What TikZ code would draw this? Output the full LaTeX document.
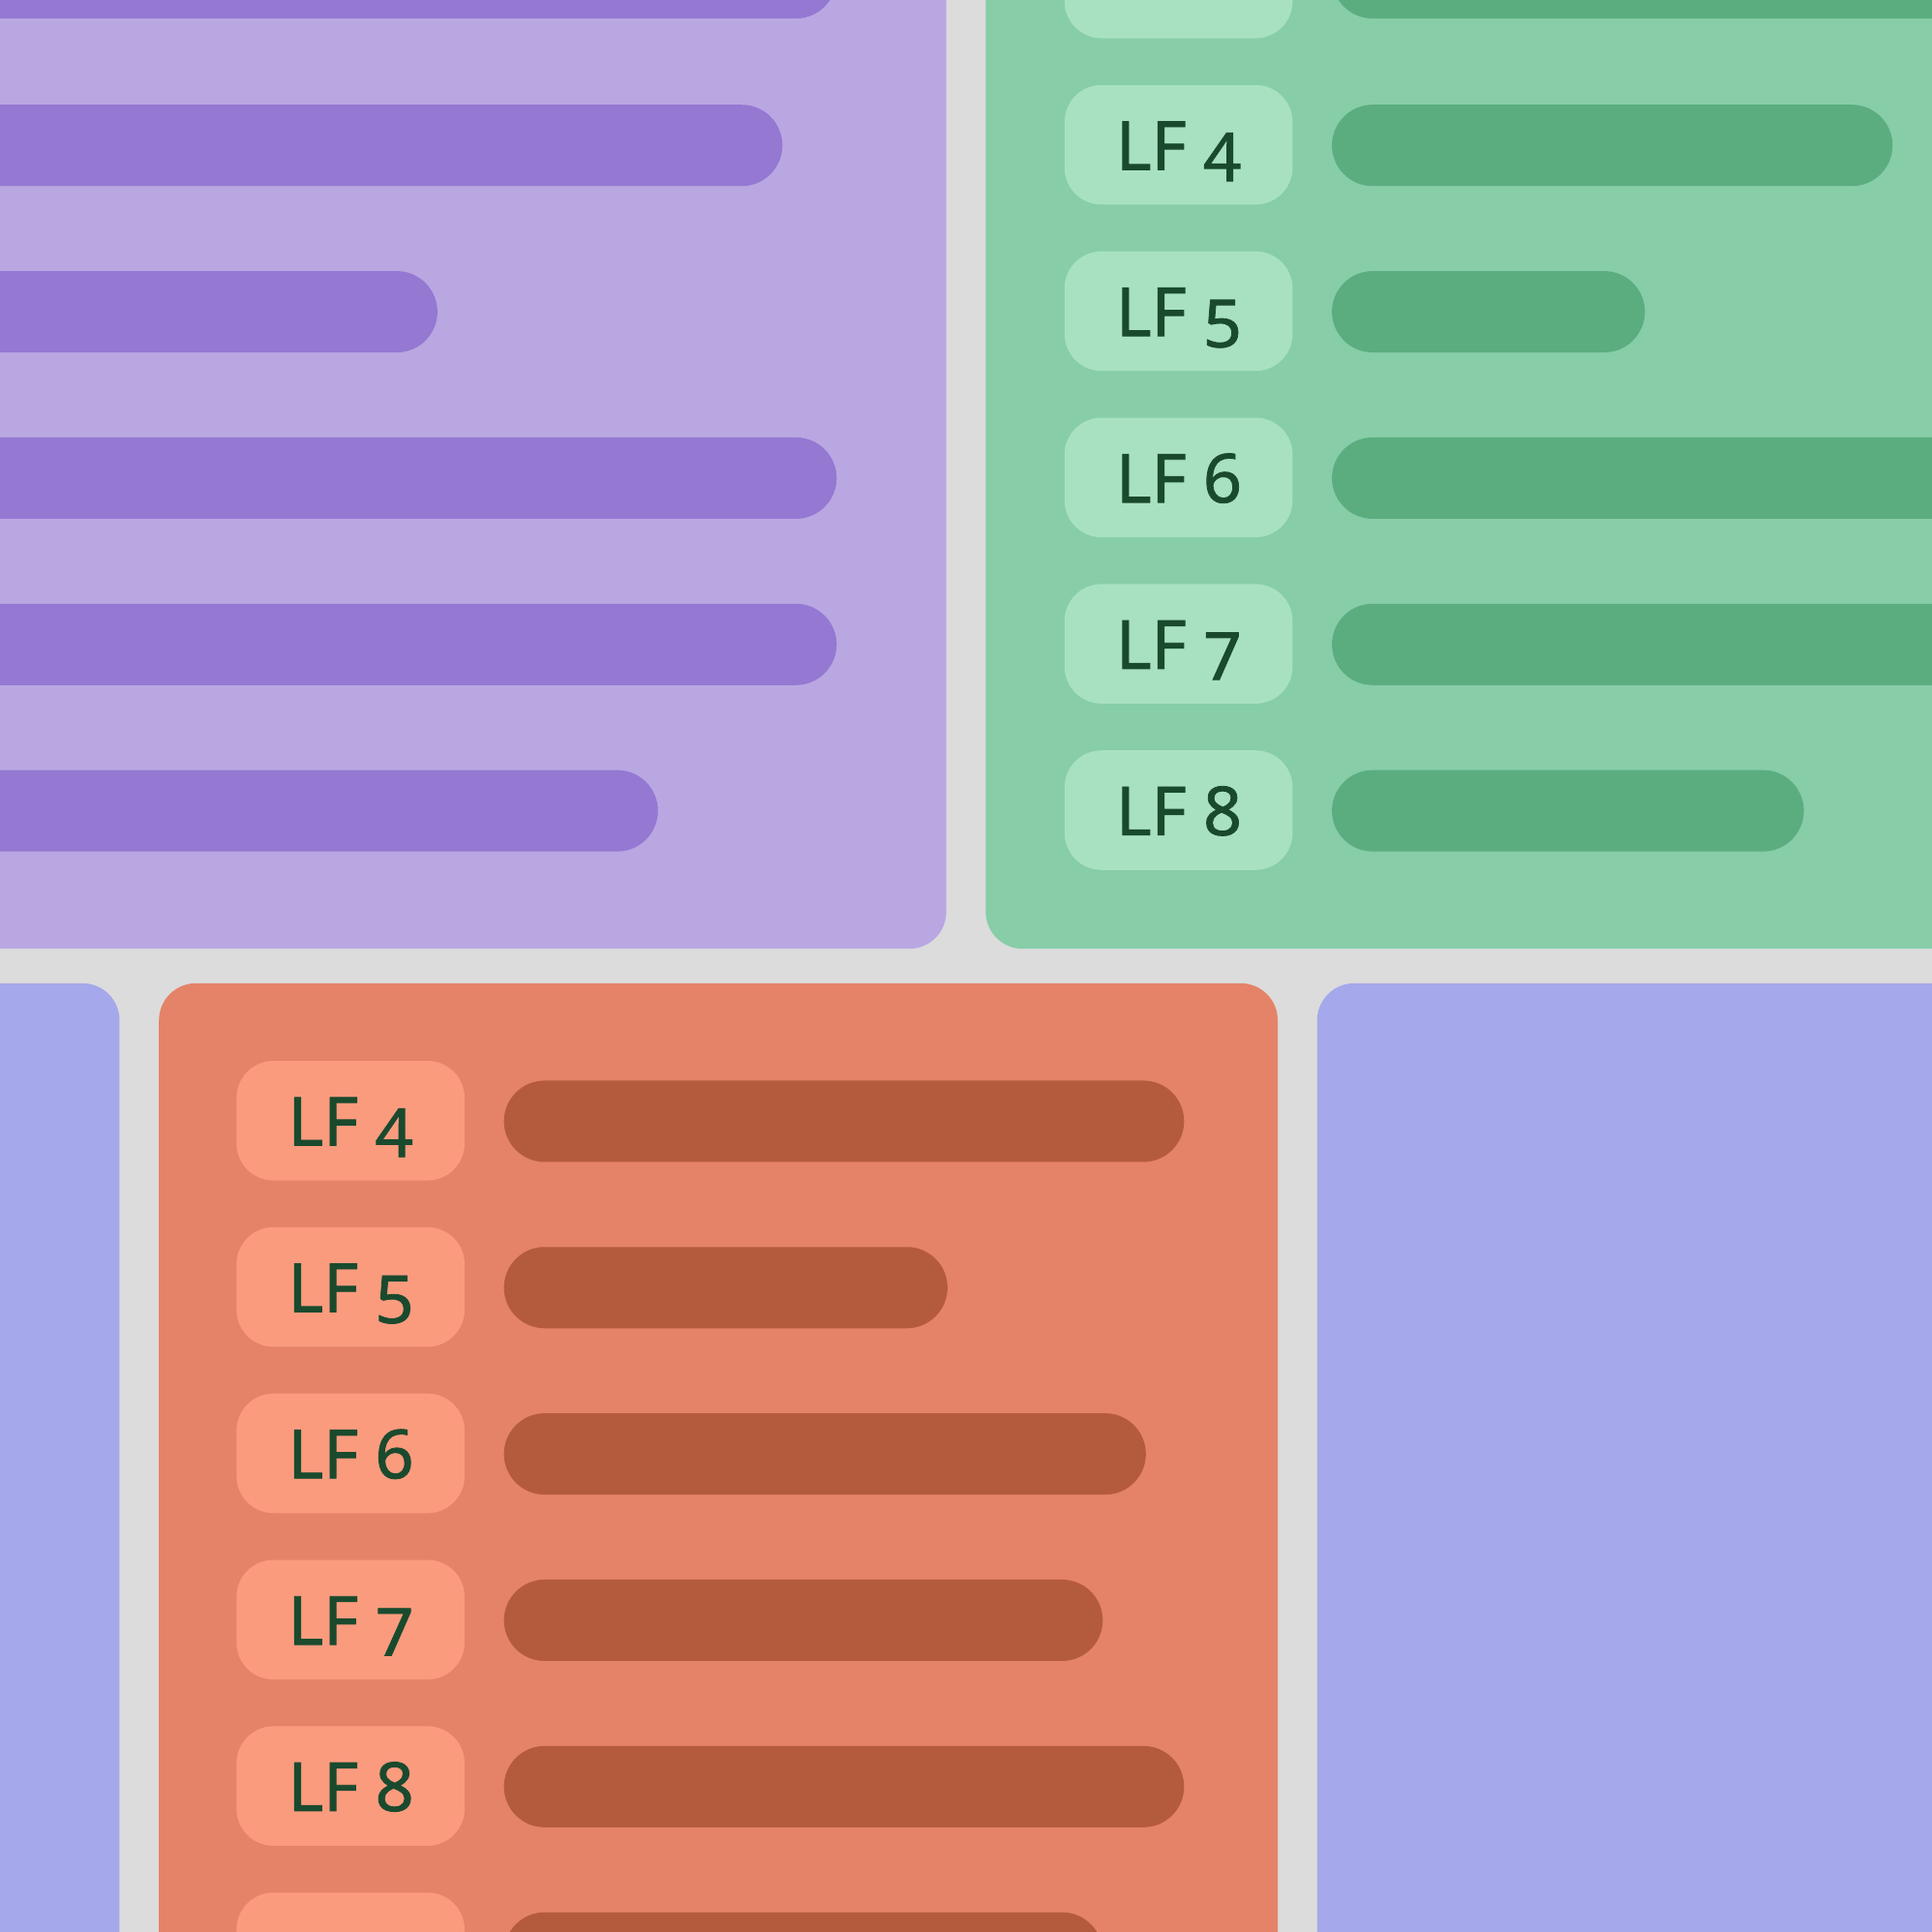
\documentclass[tikz,border=0pt]{standalone}
\usepackage{fontspec}
\setmainfont{Noto Sans}[Numbers=OldStyle,FakeBold=1.2]
\definecolor{bggray}{HTML}{DCDCDC}
\definecolor{purplepanel}{HTML}{B9A7E2}
\definecolor{purplebar}{HTML}{9478D2}
\definecolor{greenpanel}{HTML}{87CDA8}
\definecolor{greentag}{HTML}{A8E1C1}
\definecolor{greenbar}{HTML}{5BAD80}
\definecolor{orangepanel}{HTML}{E48367}
\definecolor{orangetag}{HTML}{FA9B7E}
\definecolor{orangebar}{HTML}{B55B3D}
\definecolor{bluepanel}{HTML}{A5A8EA}
\definecolor{lftext}{HTML}{1A4A2E}
\begin{document}
\begin{tikzpicture}[x=0.01cm,y=-0.01cm,
    tag/.style={rounded corners=0.3cm,minimum width=1.85cm,minimum height=0.97cm,
        inner sep=0pt,text height=0.405cm,text depth=0pt,text=lftext,
        font=\fontsize{15.6}{18}\selectfont},
    bar/.style={rounded corners=0.33cm},
    panel/.style={rounded corners=0.3cm}]
                \useasboundingbox (0,0) rectangle (1568,1568);
                \clip (0,0) rectangle (1568,1568);
                \fill[bggray] (0,0) rectangle (1568,1568);

                % panels
                \fill[purplepanel,panel] (-100,-100) rectangle (768,770);
                \fill[greenpanel,panel] (800,-100) rectangle (1700,770);
                \fill[bluepanel,panel] (-100,798) rectangle (97,1700);
                \fill[orangepanel,panel] (129,798) rectangle (1037,1700);
                \fill[bluepanel,panel] (1069,798) rectangle (1700,1700);

                % purple bars
                \fill[purplebar,bar] (-100,-51) rectangle (679,15);
                \fill[purplebar,bar] (-100,85) rectangle (635,151);
                \fill[purplebar,bar] (-100,220) rectangle (355,286);
                \fill[purplebar,bar] (-100,355) rectangle (679,421);
                \fill[purplebar,bar] (-100,490) rectangle (679,556);
                \fill[purplebar,bar] (-100,625) rectangle (534,691);

                % green rows
                \node[tag,fill=greentag] (g3) at (956.5,-17.5) {};
                \node[tag,fill=greentag] (g4) at (956.5,117.5) {LF 4};
                \node[tag,fill=greentag] (g5) at (956.5,252.5) {LF 5};
                \node[tag,fill=greentag] (g6) at (956.5,387.5) {LF 6};
                \node[tag,fill=greentag] (g7) at (956.5,522.5) {LF 7};
                \node[tag,fill=greentag] (g8) at (956.5,657.5) {LF 8};
                \fill[greenbar,bar] (1081,-51) rectangle (1700,15);
                \fill[greenbar,bar] (1081,85) rectangle (1536,151);
                \fill[greenbar,bar] (1081,220) rectangle (1335,286);
                \fill[greenbar,bar] (1081,355) rectangle (1700,421);
                \fill[greenbar,bar] (1081,490) rectangle (1700,556);
                \fill[greenbar,bar] (1081,625) rectangle (1464,691);

                % orange rows
                \node[tag,fill=orangetag] (o4) at (284.5,909.5) {LF 4};
                \node[tag,fill=orangetag] (o5) at (284.5,1044.5) {LF 5};
                \node[tag,fill=orangetag] (o6) at (284.5,1179.5) {LF 6};
                \node[tag,fill=orangetag] (o7) at (284.5,1314.5) {LF 7};
                \node[tag,fill=orangetag] (o8) at (284.5,1449.5) {LF 8};
                \node[tag,fill=orangetag] (o9) at (284.5,1584.5) {};
                \fill[orangebar,bar] (409,877) rectangle (961,943);
                \fill[orangebar,bar] (409,1012) rectangle (769,1078);
                \fill[orangebar,bar] (409,1147) rectangle (930,1213);
                \fill[orangebar,bar] (409,1282) rectangle (895,1348);
                \fill[orangebar,bar] (409,1417) rectangle (961,1483);
                \fill[orangebar,bar] (409,1552) rectangle (895,1618);
            \end{tikzpicture}
\end{document}
